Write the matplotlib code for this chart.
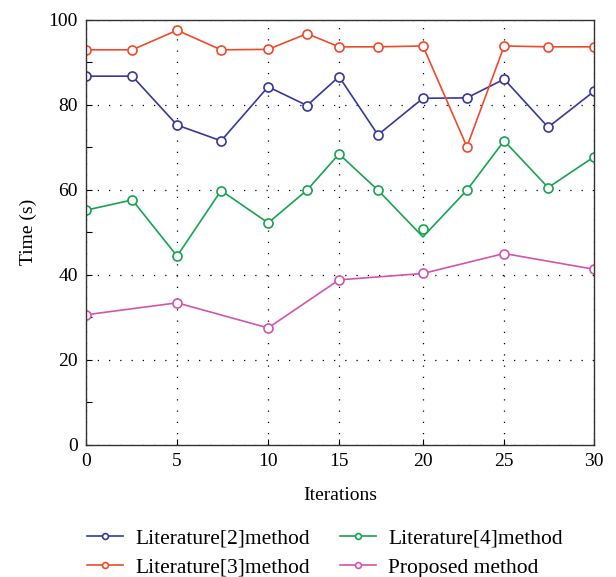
import matplotlib.pyplot as plt

# x positions of the iterations (as placed in the picture)
iters = [0, 2.72, 5.37, 7.97, 10.75, 13.05, 14.94, 17.24, 19.9, 22.5, 24.7, 27.3, 30]
iters_proposed = [0, 5.37, 10.75, 14.94, 19.9, 24.7, 30]

lit2 = [86.7, 86.7, 75.2, 71.5, 84.2, 79.8, 86.6, 72.9, 81.5, 81.6, 86.0, 74.7, 83.1]
lit3 = [92.9, 92.9, 97.5, 92.9, 93.0, 96.7, 93.6, 93.6, 93.8, 70.1, 93.8, 93.6, 93.6]
lit4_line = [55.2, 57.6, 44.4, 59.8, 52.2, 59.9, 68.4, 59.9, 48.9, 59.9, 71.5, 60.5, 67.7]
lit4_marks = [55.2, 57.6, 44.4, 59.8, 52.2, 59.9, 68.4, 59.9, 50.7, 59.9, 71.5, 60.5, 67.7]
proposed = [30.6, 33.4, 27.5, 38.8, 40.3, 45.0, 41.3]

xtick_pos = [0, 5.37, 10.75, 14.94, 19.9, 24.7, 30]
xtick_labels = ["0", "5", "10", "15", "20", "25", "30"]


def main():
    plt.rcParams["font.family"] = ["Liberation Serif", "DejaVu Serif"]
    fig = plt.figure(figsize=(6.16, 5.77), dpi=100, facecolor="w")
    ax = fig.add_axes([0.14, 0.229, 0.824, 0.737])

    blue = "#38389a"
    red = "#f04a2c"
    green = "#17a352"
    pink = "#d155ad"
    mk = dict(marker="o", markersize=6.5, markerfacecolor="white", markeredgewidth=1.2, linewidth=1.2)

    ax.plot(iters, lit2, color=blue, label="Literature[2]method", **mk)
    ax.plot(iters, lit3, color=red, label="Literature[3]method", **mk)
    ax.plot(iters, lit4_line, color=green, linewidth=1.2)
    ax.plot(iters, lit4_marks, color=green, linestyle="none", marker="o", markersize=6.5,
            markerfacecolor="white", markeredgewidth=1.2)
    ax.plot([], [], color=green, label="Literature[4]method", **mk)
    ax.plot(iters_proposed, proposed, color=pink, label="Proposed method", **mk)

    ax.set_xlim(0, 30)
    ax.set_ylim(0, 100)
    ax.set_xticks(xtick_pos)
    ax.set_xticklabels(xtick_labels)
    ax.set_yticks([0, 20, 40, 60, 80, 100])
    ax.set_yticks([10, 30, 50, 70, 90], minor=True)
    ax.tick_params(direction="in", labelsize=14, length=4, width=0.8, pad=6)
    ax.tick_params(which="minor", direction="in", length=4, width=0.8)
    ax.grid(True, color="black", linestyle=(0, (1, 8)), linewidth=0.9)
    for s in ax.spines.values():
        s.set_linewidth(1.0)
        s.set_color("#333333")

    ax.set_xlabel("Iterations", fontsize=14, labelpad=12)
    ax.set_ylabel("Time (s)", fontsize=14, labelpad=8)

    ax.legend(loc="upper center", bbox_to_anchor=(0.47, -0.15), ncol=2, frameon=False,
              fontsize=15.5, handlelength=1.7, columnspacing=1.4, labelspacing=0.45,
              handletextpad=0.55, markerscale=0.65)

    plt.savefig("out.png", dpi=100)
    plt.close()


if __name__ == "__main__":
    main()
